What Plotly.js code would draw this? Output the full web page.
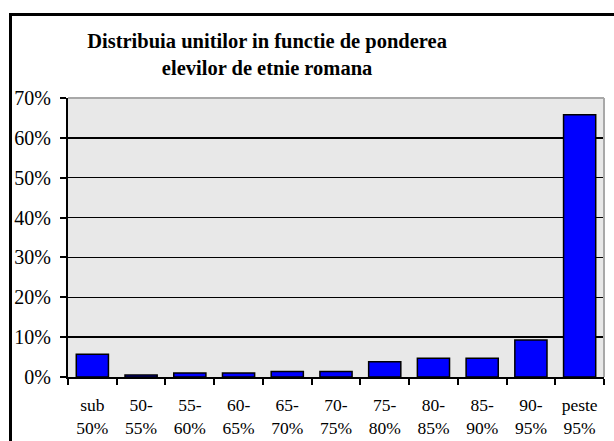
<!DOCTYPE html>
<html>
<head>
<meta charset="utf-8">
<script src="https://cdn.plot.ly/plotly-3.0.1.min.js"></script>
<style>
html,body{margin:0;padding:0;background:#fff;overflow:hidden;}
#wrap{position:relative;width:614px;height:441px;}
#chart{position:absolute;left:0;top:0;width:614px;height:441px;}
#frameLeft{position:absolute;left:9px;top:13px;width:3px;height:428px;background:#000;z-index:5;}
#frameTop{position:absolute;left:9px;top:13px;width:605px;height:3px;background:#000;z-index:5;}
</style>
</head>
<body>
<div id="wrap">
<div id="chart"></div>
<div id="frameLeft"></div>
<div id="frameTop"></div>
</div>
<script>
const categories = ["sub<br>50%", "50-<br>55%", "55-<br>60%", "60-<br>65%", "65-<br>70%", "70-<br>75%", "75-<br>80%", "80-<br>85%", "85-<br>90%", "90-<br>95%", "peste<br>95%"];
const shares = [5.7, 0.5, 1.0, 1.0, 1.4, 1.4, 3.8, 4.7, 4.7, 9.3, 65.8];
const titleText = "Distribuia unitilor in functie de ponderea<br>elevilor de etnie romana";

const serif = "'Liberation Serif', 'Times New Roman', serif";

const trace = {
  type: "bar",
  x: categories,
  y: shares,
  marker: { color: "#0000ff", line: { color: "#000000", width: 1.5 } },
  hoverinfo: "none"
};

const layout = {
  width: 614,
  height: 441,
  margin: { l: 68, r: 10, t: 98, b: 64, pad: 0 },
  paper_bgcolor: "#ffffff",
  plot_bgcolor: "#e8e8e8",
  bargap: 0.34,
  showlegend: false,
  title: {
    text: titleText,
    font: { family: serif, size: 20.5, color: "#000000", weight: "bold" },
    x: 0.435, xref: "container", xanchor: "center",
    y: 1 - 48 / 441, yref: "container", yanchor: "top"
  },
  xaxis: {
    type: "category",
    tickson: "boundaries",
    ticks: "outside",
    ticklen: 6,
    tickwidth: 2,
    tickcolor: "#000000",
    showline: true,
    linecolor: "#000000",
    linewidth: 2,
    showgrid: false,
    tickfont: { family: serif, size: 17.5, color: "#000000" },
    ticklabelstandoff: 11,
    fixedrange: true
  },
  yaxis: {
    range: [0, 70],
    dtick: 10,
    tick0: 0,
    ticksuffix: "%",
    ticks: "outside",
    ticklen: 6,
    tickwidth: 2,
    tickcolor: "#000000",
    showline: true,
    linecolor: "#000000",
    linewidth: 2,
    showgrid: true,
    gridcolor: "#000000",
    gridwidth: 1.5,
    zeroline: false,
    tickfont: { family: serif, size: 20, color: "#000000" },
    ticklabelstandoff: 5,
    fixedrange: true
  },
  shapes: [
    {
      type: "line", xref: "paper", yref: "paper",
      x0: 0, x1: 1, y0: 1, y1: 1,
      line: { color: "#a8a8a8", width: 2 },
      layer: "above"
    },
    {
      type: "line", xref: "paper", yref: "paper",
      x0: 1, x1: 1, y0: 0, y1: 1,
      line: { color: "#a8a8a8", width: 2 },
      layer: "above"
    }
  ]
};

Plotly.newPlot("chart", [trace], layout, { staticPlot: true, displayModeBar: false });
</script>
</body>
</html>
